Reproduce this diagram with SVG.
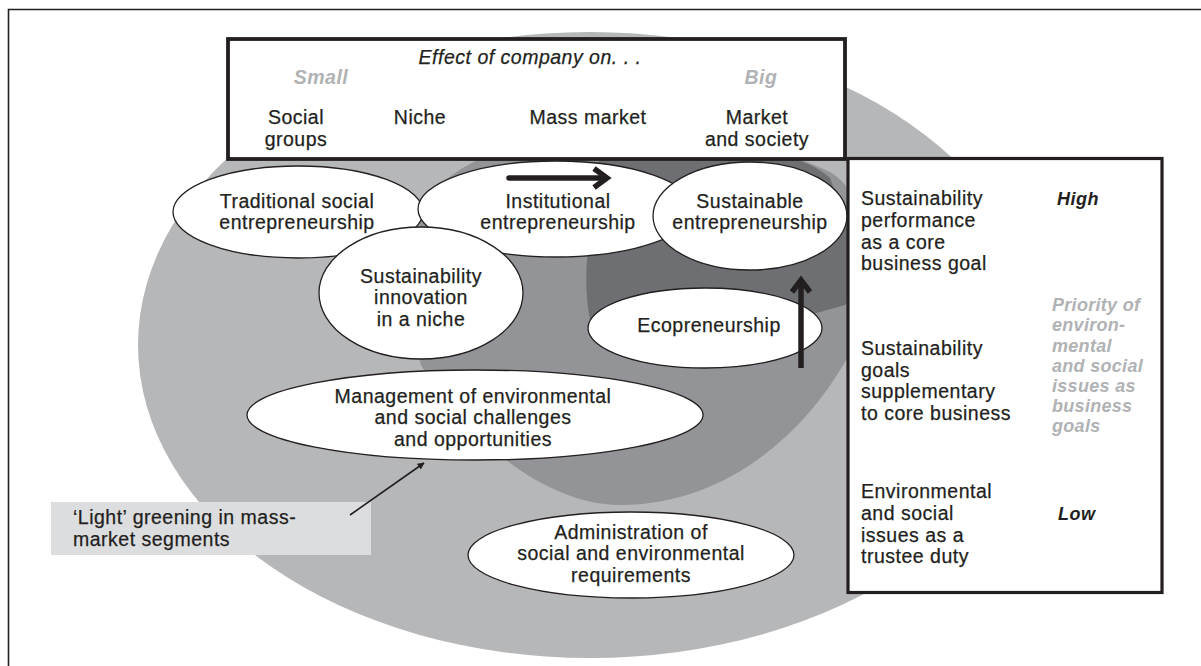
<svg xmlns="http://www.w3.org/2000/svg" width="1201" height="666" viewBox="0 0 1201 666">
<defs>
<style>
.t{font-family:"Liberation Sans",Arial,sans-serif;font-size:19.5px;letter-spacing:0.5px;fill:#231f20;stroke:#231f20;stroke-width:0.25}
.c{text-anchor:middle}
.i{font-style:italic}
.gr{font-weight:bold;font-style:italic;fill:#b1b2b4;stroke:none}
.pr{font-size:18px;letter-spacing:0.3px}
.hl{font-weight:bold;font-style:italic;font-size:18px;stroke:none}
.node{fill:#ffffff;stroke:#231f20;stroke-width:1.3}
.box{fill:#ffffff;stroke:#231f20}
.thick{fill:none;stroke:#231f20;stroke-width:5.5}
</style>
<marker id="ah" viewBox="0 0 10 10" refX="9" refY="5" markerWidth="7" markerHeight="7" markerUnits="userSpaceOnUse" orient="auto">
<path d="M0,0 L10,5 L0,10 z" fill="#231f20"/>
</marker>
</defs>
<rect width="1201" height="666" fill="#ffffff"/>
<path d="M8.5,680 V9.5 H1210" fill="none" stroke="#231f20" stroke-width="1.6"/>

<g id="background">
<ellipse cx="590" cy="345" rx="452" ry="313" fill="#b6b7b9"/>
<path d="M421,365 C410,330 410,250 425,205 C470,120 700,110 830,172 C880,200 875,320 845,362 C800,440 720,505 620,505 C540,505 460,430 421,365 Z" fill="#939497"/>
<path d="M590,320 C586,300 585,275 588,250 L598,180 L600,140 L645,140 C720,140 800,150 830,178 L848,230 L870,270 L845,305 L813,314 L700,330 Z" fill="#6e6f72"/>
</g>

<g id="n-traditional">
<ellipse class="node" cx="298" cy="212" rx="125" ry="46"/>
<text class="t c" x="297" y="208">Traditional social</text>
<text class="t c" x="297" y="229">entrepreneurship</text>
</g>
<g id="n-institutional">
<ellipse class="node" cx="556" cy="209" rx="138" ry="48"/>
<text class="t c" x="558" y="208">Institutional</text>
<text class="t c" x="558" y="229">entrepreneurship</text>
</g>
<g id="n-sustainable">
<ellipse class="node" cx="750" cy="216" rx="97" ry="54"/>
<text class="t c" x="750" y="208">Sustainable</text>
<text class="t c" x="750" y="229">entrepreneurship</text>
</g>
<g id="n-niche">
<ellipse class="node" cx="421" cy="293" rx="102" ry="66"/>
<text class="t c" x="421" y="283">Sustainability</text>
<text class="t c" x="421" y="304">innovation</text>
<text class="t c" x="421" y="326">in a niche</text>
</g>
<g id="n-eco">
<ellipse class="node" cx="705" cy="328" rx="117" ry="40"/>
<text class="t c" x="709" y="332">Ecopreneurship</text>
</g>
<g id="n-management">
<ellipse class="node" cx="475" cy="415" rx="228" ry="45"/>
<text class="t c" x="473" y="403">Management of environmental</text>
<text class="t c" x="473" y="424">and social challenges</text>
<text class="t c" x="473" y="446">and opportunities</text>
</g>
<g id="n-admin">
<ellipse class="node" cx="631" cy="555" rx="163" ry="43"/>
<text class="t c" x="631" y="539">Administration of</text>
<text class="t c" x="631" y="560">social and environmental</text>
<text class="t c" x="631" y="582">requirements</text>
</g>

<g id="n-light">
<rect x="51" y="502" width="320" height="53" fill="#dcdddf"/>
<text class="t" x="73" y="524">‘Light’ greening in mass-</text>
<text class="t" x="73" y="546">market segments</text>
</g>

<g id="n-effect">
<rect class="box" x="228" y="39" width="617" height="120" stroke-width="3.8"/>
<text class="t c i" x="530" y="64">Effect of company on. . .</text>
<text class="t c gr" x="321" y="84">Small</text>
<text class="t c gr" x="761" y="84">Big</text>
<text class="t c" x="296" y="124">Social</text>
<text class="t c" x="296" y="146">groups</text>
<text class="t c" x="420" y="124">Niche</text>
<text class="t c" x="588" y="124">Mass market</text>
<text class="t c" x="757" y="124">Market</text>
<text class="t c" x="757" y="146">and society</text>
</g>

<g id="n-priority">
<rect class="box" x="848" y="158.5" width="314" height="434" stroke-width="3.2"/>
<text class="t" x="861" y="205">Sustainability</text>
<text class="t" x="861" y="227">performance</text>
<text class="t" x="861" y="249">as a core</text>
<text class="t" x="861" y="270">business goal</text>
<text class="t hl" x="1057" y="205">High</text>
<text class="t gr pr" x="1052" y="311">Priority of</text>
<text class="t gr pr" x="1052" y="331">environ-</text>
<text class="t gr pr" x="1052" y="352">mental</text>
<text class="t gr pr" x="1052" y="372">and social</text>
<text class="t gr pr" x="1052" y="392">issues as</text>
<text class="t gr pr" x="1052" y="412">business</text>
<text class="t gr pr" x="1052" y="432">goals</text>
<text class="t" x="861" y="355">Sustainability</text>
<text class="t" x="861" y="377">goals</text>
<text class="t" x="861" y="398">supplementary</text>
<text class="t" x="861" y="420">to core business</text>
<text class="t" x="861" y="498">Environmental</text>
<text class="t" x="861" y="520">and social</text>
<text class="t" x="861" y="542">issues as a</text>
<text class="t" x="861" y="563">trustee duty</text>
<text class="t hl" x="1058" y="520">Low</text>
</g>

<g id="connectors">
<line x1="509" y1="178" x2="605" y2="178" class="thick" stroke-linecap="round"/>
<polyline points="594,168.5 607,178 594,187.5" class="thick" stroke-linejoin="miter"/>
<line x1="801" y1="368" x2="801" y2="283" class="thick"/>
<polyline points="792,292 801,280 810,292" class="thick" stroke-linejoin="miter"/>
<line x1="350" y1="515" x2="424" y2="463" stroke="#231f20" stroke-width="1.6" marker-end="url(#ah)"/>
</g>
</svg>
